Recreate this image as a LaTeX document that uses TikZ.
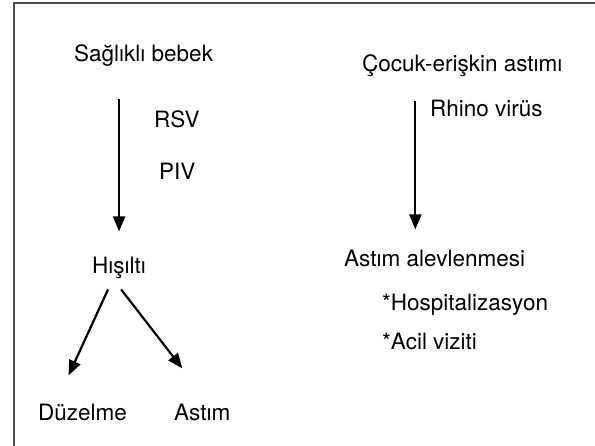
\documentclass[tikz,border=0pt]{standalone}
\usepackage{fontspec}
\setmainfont{TeX Gyre Heros}
\usetikzlibrary{arrows.meta, calc, positioning}

\tikzset{
    lbl/.style={anchor=base west, inner sep=2pt, font=\fontsize{22.5}{26}\selectfont, text=black},
    arr/.style={line width=2.2pt, -{Triangle[length=15pt, width=12pt]}},
    frame/.style={line width=2pt, draw=black!70}
}

\begin{document}
\begin{tikzpicture}[x=1pt, y=-1pt]
                    \useasboundingbox (0, 0) rectangle (595, 446);
                    \draw [frame] (13.5, 446) |- (595, 3.5);

                    % left column
                    \node [lbl] (Nbebek) at (72, 62) { Sağlıklı bebek };
                    \node [lbl] (Nrsv) at (152, 128) { RSV };
                    \node [lbl] (Npiv) at (157, 180) { PIV };
                    \node [lbl] (Nhis) at (90, 274) { Hışıltı };
                    \node [lbl] (Nduz) at (36, 421) { Düzelme };
                    \node [lbl] (Nast) at (172, 421) { Astım };

                    % right column
                    \node [lbl] (Ncocuk) at (360, 72) { Çocuk-erişkin astımı };
                    \node [lbl] (Nrhino) at (428, 117) { Rhino virüs };
                    \node [lbl] (Nalev) at (342, 267) { Astım alevlenmesi };
                    \node [lbl] (Nhosp) at (380, 311) { *Hospitalizasyon };
                    \node [lbl] (Nacil) at (380, 350) { *Acil viziti };

                    \coordinate (Rtop) at ([xshift=-47pt, yshift=-22pt]Ncocuk.south);

                    \draw [arr] ([yshift=-30pt]Nbebek.south -| Nhis.north) -- ([yshift=24pt]Nhis.north);
                    \draw [arr] ([xshift=-11pt, yshift=-8pt]Nhis.south) -- ([xshift=-14pt, yshift=27pt]Nduz.north);
                    \draw [arr] ([xshift=2pt, yshift=-8pt]Nhis.south) -- ([xshift=-20pt, yshift=34pt]Nast.north);
                    \draw [arr, shorten >=19pt] (Rtop) -- (Rtop |- Nalev.north);
            \end{tikzpicture}
\end{document}
